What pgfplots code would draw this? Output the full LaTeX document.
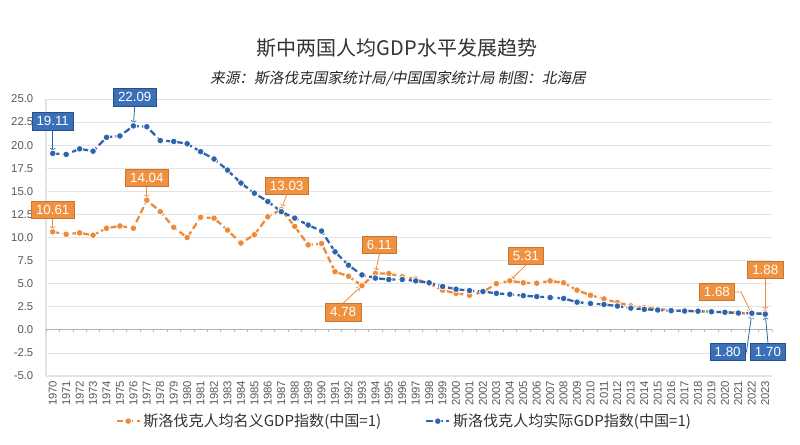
\documentclass[border=0pt]{standalone}
\usepackage{pgfplots}
\pgfplotsset{compat=1.18}
\usepackage{fontspec}
\setmainfont{Liberation Sans}
\newfontfamily\cjk{Noto Sans CJK SC}
\newfontfamily\cjkit{Noto Sans CJK SC}[FakeSlant=0.2]
\definecolor{cblue}{HTML}{2E64AC}
\definecolor{cbox}{HTML}{3A70B8}
\definecolor{corange}{HTML}{EE8A37}
\definecolor{cobox}{HTML}{F0913F}
\definecolor{ticktext}{HTML}{595959}
\definecolor{gridc}{HTML}{E3E3E3}
\begin{document}
\begin{tikzpicture}
\fill[white] (0,0) rectangle (600pt,333pt);
\node[font=\cjk\fontsize{15}{18}\selectfont, text=black!80] at (297.75pt,297pt) {斯中两国人均GDP水平发展趋势};
\node[font=\cjkit\fontsize{11}{13}\selectfont, text=black!85] at (298.5pt,273.75pt) {来源：斯洛伐克国家统计局/中国国家统计局 制图：北海居};
\begin{axis}[
  at={(34.5pt,51pt)}, anchor=south west,
  scale only axis, width=544.5pt, height=207.75pt,
  clip=false,
  xmin=1969.5, xmax=2023.5, ymin=-5, ymax=25,
  axis lines*=left,
  axis line style={gridc, line width=0.8pt},
  ytick={-5,-2.5,0,2.5,5,7.5,10,12.5,15,17.5,20,22.5,25},
  xtick={1970,...,2023},
  major tick length=0pt,
  ymajorgrids, grid style={gridc, line width=0.6pt},
  /pgf/number format/assume math mode=true,
  yticklabel style={/pgf/number format/.cd, fixed, fixed zerofill, precision=1, /tikz/.cd, font=\fontsize{8.5}{10}\selectfont, text=ticktext, xshift=-6pt},
  xticklabel style={/pgf/number format/.cd, fixed, precision=0, 1000 sep={}, /tikz/.cd, rotate=90, anchor=east, font=\fontsize{8.5}{10}\selectfont, text=ticktext},
  legend columns=2,
  legend style={draw=none, fill=none, at={(0.494,-0.163)}, anchor=center, font=\cjk\fontsize{11.3}{13}\selectfont, text=black!80, /tikz/every even column/.append style={column sep=31pt}},
]
\draw[black!30, line width=0.9pt] (axis cs:1969.5,0) -- (axis cs:2023.5,0);
\pgfplotsinvokeforeach{1969.5,1970.5,...,2023.5}{\draw[black!30, line width=0.5pt] (axis cs:#1,0) -- (axis cs:#1,-0.27);}
\addplot[corange, line width=1.7pt, dash pattern=on 5pt off 2.5pt, mark=*, mark size=2.5pt, mark options={solid, fill=corange, draw=white, line width=0.6pt}] coordinates {
(1970,10.61) (1971,10.35) (1972,10.5) (1973,10.25) (1974,11.0) (1975,11.25) (1976,11.0) (1977,14.04) (1978,12.8) (1979,11.1)
(1980,10.0) (1981,12.2) (1982,12.1) (1983,10.8) (1984,9.4) (1985,10.3) (1986,12.25) (1987,13.03) (1988,11.2) (1989,9.2)
(1990,9.35) (1991,6.3) (1992,5.8) (1993,4.78) (1994,6.11) (1995,6.1) (1996,5.75) (1997,5.5) (1998,5.0) (1999,4.3)
(2000,3.95) (2001,3.75) (2002,4.1) (2003,5.0) (2004,5.31) (2005,5.1) (2006,5.05) (2007,5.3) (2008,5.1) (2009,4.3)
(2010,3.75) (2011,3.35) (2012,2.95) (2013,2.6) (2014,2.4) (2015,2.25) (2016,2.15) (2017,2.05) (2018,2.0) (2019,1.95)
(2020,1.9) (2021,1.85) (2022,1.68) (2023,1.88)
};
\addlegendentry{斯洛伐克人均名义GDP指数(中国=1)}
\addplot[cblue, line width=1.7pt, dash pattern=on 5pt off 2.5pt, mark=*, mark size=2.5pt, mark options={solid, fill=cblue, draw=white, line width=0.6pt}] coordinates {
(1970,19.11) (1971,19.0) (1972,19.6) (1973,19.35) (1974,20.85) (1975,21.0) (1976,22.09) (1977,22.0) (1978,20.5) (1979,20.4)
(1980,20.15) (1981,19.3) (1982,18.5) (1983,17.3) (1984,15.9) (1985,14.8) (1986,13.9) (1987,12.8) (1988,12.1) (1989,11.35)
(1990,10.7) (1991,8.45) (1992,7.0) (1993,5.95) (1994,5.6) (1995,5.45) (1996,5.45) (1997,5.3) (1998,5.1) (1999,4.7)
(2000,4.4) (2001,4.25) (2002,4.15) (2003,3.95) (2004,3.85) (2005,3.7) (2006,3.6) (2007,3.5) (2008,3.4) (2009,3.0)
(2010,2.85) (2011,2.75) (2012,2.58) (2013,2.35) (2014,2.22) (2015,2.15) (2016,2.08) (2017,2.04) (2018,2.02) (2019,1.96)
(2020,1.9) (2021,1.82) (2022,1.80) (2023,1.70)
};
\addlegendentry{斯洛伐克人均实际GDP指数(中国=1)}
\tikzset{bl/.style={fill=cbox, draw=cblue!80!black, line width=0.4pt, text=white, font=\fontsize{10}{12}\selectfont, inner xsep=3.5pt, inner ysep=3pt},
         ol/.style={fill=cobox, draw=corange!85!black, line width=0.4pt, text=white, font=\fontsize{10}{12}\selectfont, inner xsep=3.5pt, inner ysep=3pt}}
\node[bl] (b1) at (axis cs:1970,22.6) {19.11};
\draw[->, cblue, line width=0.6pt, shorten >=2pt] (b1.south) -- (axis cs:1970,19.11);
\node[bl] (b2) at (axis cs:1976.1,25.2) {22.09};
\draw[->, cblue, line width=0.6pt, shorten >=2pt] (b2.south) -- (axis cs:1976,22.09);
\node[bl] (b3) at (axis cs:2020.2,-2.4) {1.80};
\draw[->, cblue, line width=0.6pt, shorten >=2pt] (b3.east) -- (axis cs:2021.6,-2.4) -- (axis cs:2022,1.80);
\node[bl] (b4) at (axis cs:2023.2,-2.4) {1.70};
\draw[->, cblue, line width=0.6pt, shorten >=2pt] (b4.north) -- (axis cs:2023,1.70);
\node[ol] (o1) at (axis cs:1970,13.0) {10.61};
\draw[->, corange, line width=0.6pt, shorten >=2pt] (o1.south) -- (axis cs:1970,10.61);
\node[ol] (o2) at (axis cs:1977,16.45) {14.04};
\draw[->, corange, line width=0.6pt, shorten >=2pt] (o2.south) -- (axis cs:1977,14.04);
\node[ol] (o3) at (axis cs:1987.4,15.6) {13.03};
\draw[->, corange, line width=0.6pt, shorten >=2pt] (o3.south) -- (axis cs:1987,13.03);
\node[ol] (o4) at (axis cs:1994.3,9.2) {6.11};
\draw[->, corange, line width=0.6pt, shorten >=2pt] (o4.south) -- (axis cs:1994,6.11);
\node[ol] (o5) at (axis cs:1991.6,1.9) {4.78};
\draw[->, corange, line width=0.6pt, shorten >=2pt] (o5.north) -- (axis cs:1993,4.78);
\node[ol] (o6) at (axis cs:2005.2,8.0) {5.31};
\draw[->, corange, line width=0.6pt, shorten >=2pt] (o6.south) -- (axis cs:2004,5.31);
\node[ol] (o7) at (axis cs:2019.4,4.1) {1.68};
\draw[->, corange, line width=0.6pt, shorten >=2pt] (o7.east) -- (axis cs:2021.2,4.1) -- (axis cs:2022,1.68);
\node[ol] (o8) at (axis cs:2023,6.5) {1.88};
\draw[->, corange, line width=0.6pt, shorten >=2pt] (o8.south) -- (axis cs:2023,1.88);
\end{axis}
\end{tikzpicture}
\end{document}
